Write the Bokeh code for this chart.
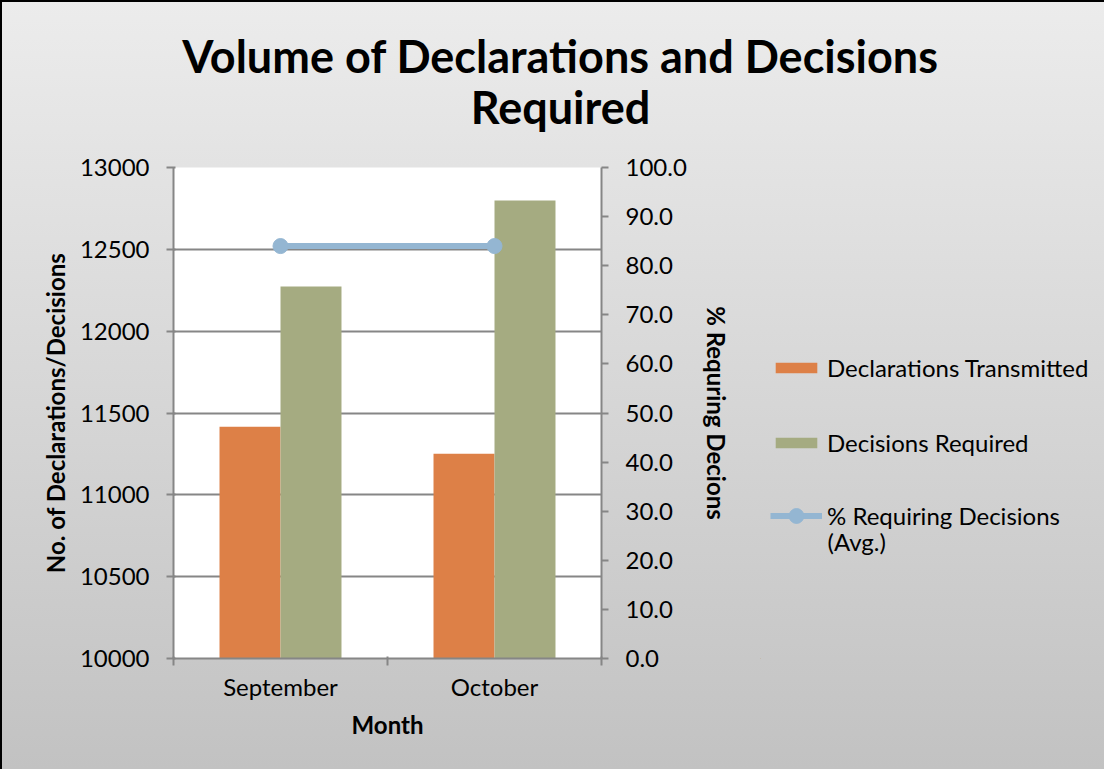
from bokeh.plotting import figure
from bokeh.layouts import column, row
from bokeh.models import (Range1d, LinearAxis, FixedTicker, Legend, LegendItem,
                          Label, NumeralTickFormatter, ColumnDataSource)
from bokeh.transform import dodge
from bokeh.embed import file_html
from bokeh.resources import INLINE

# ---- data ----
months = ["September", "October"]
declarations_transmitted = [11416, 11251]
decisions_required = [12273, 12798]
pct_requiring_decisions = [84.0, 84.0]
left_ticks = [10000, 10500, 11000, 11500, 12000, 12500, 13000]
right_ticks = [0, 10, 20, 30, 40, 50, 60, 70, 80, 90, 100]
title_lines = ["Volume of Declarations and Decisions", "Required"]
series_names = ["Declarations Transmitted", "Decisions Required",
                "% Requiring Decisions", "(Avg.)"]

FONT = "Lato"
ORANGE = "#DD8047"
GREEN = "#A5AB81"
BLUE = "#94B6D2"
GRID = "#868686"

W, H = 1104, 769
TOP_H = 147          # height of the title strip
MAIN_W = 760         # width of the chart part

def grad(y0, y1):
    c0, c1 = 236, 194
    a = round(c0 + (c1 - c0) * y0 / H)
    b = round(c0 + (c1 - c0) * y1 / H)
    return "linear-gradient(to bottom, #{0:02x}{0:02x}{0:02x} 0%, #{1:02x}{1:02x}{1:02x} 100%)".format(a, b)

# ---------------- title strip ----------------
pt = figure(width=W, height=TOP_H, x_range=Range1d(0, W), y_range=Range1d(0, TOP_H),
            output_backend="svg", toolbar_location=None,
            min_border_left=0, min_border_right=0, min_border_top=0, min_border_bottom=0)
pt.axis.visible = False
pt.grid.visible = False
pt.outline_line_color = None
pt.background_fill_alpha = 0
pt.border_fill_alpha = 0
pt.styles = {"background": grad(0, TOP_H), "box-shadow": "inset 2px 2px 0 0 #000"}
for txt, yy in zip(title_lines, [TOP_H - 55, TOP_H - 106]):
    pt.add_layout(Label(x=560, y=yy, text=txt, text_font=FONT, text_font_style="bold",
                        text_font_size="45px", text_align="center",
                        text_baseline="middle", text_color="black"))

# ---------------- main chart ----------------
x_pos = [i + 0.5 for i in range(len(months))]
src = ColumnDataSource(dict(x=x_pos, dec=declarations_transmitted,
                            req=decisions_required, pct=pct_requiring_decisions))

p = figure(width=MAIN_W, height=H - TOP_H, x_range=Range1d(0, len(months)),
           y_range=Range1d(left_ticks[0], left_ticks[-1]),
           output_backend="svg", toolbar_location=None,
           min_border_left=173, min_border_right=MAIN_W - 601,
           min_border_top=167 - TOP_H, min_border_bottom=H - 658)
p.extra_y_ranges = {"pct": Range1d(right_ticks[0], right_ticks[-1])}
p.background_fill_color = "white"
p.border_fill_alpha = 0
p.outline_line_color = None
p.styles = {"background": grad(TOP_H, H), "box-shadow": "inset 2px 0 0 0 #000"}

bw = 0.285
r1 = p.vbar(x=dodge("x", -bw / 2, range=p.x_range), top="dec", bottom=left_ticks[0],
            width=bw, source=src, fill_color=ORANGE, line_color=None)
r2 = p.vbar(x=dodge("x", bw / 2, range=p.x_range), top="req", bottom=left_ticks[0],
            width=bw, source=src, fill_color=GREEN, line_color=None)
r3 = p.line(x="x", y="pct", source=src, y_range_name="pct", line_color=BLUE, line_width=6)
r4 = p.scatter(x="x", y="pct", source=src, y_range_name="pct", size=15,
               fill_color=BLUE, line_color=BLUE)

p.xgrid.visible = False
p.ygrid.ticker = FixedTicker(ticks=left_ticks)
p.ygrid.grid_line_color = GRID
p.ygrid.grid_line_width = 2

def style_text(ax):
    ax.major_label_text_font = FONT
    ax.major_label_text_font_size = "24px"
    ax.major_label_text_color = "black"
    ax.axis_label_text_font = FONT
    ax.axis_label_text_font_style = "bold"
    ax.axis_label_text_font_size = "24px"
    ax.axis_label_text_color = "black"
    ax.axis_line_color = GRID
    ax.axis_line_width = 2

xa = p.xaxis[0]
xa.ticker = FixedTicker(ticks=x_pos, minor_ticks=list(range(len(months) + 1)))
xa.major_label_overrides = {x: m for x, m in zip(x_pos, months)}
xa.major_tick_out = 0
xa.major_tick_in = 0
xa.minor_tick_out = 7
xa.minor_tick_in = 2
xa.minor_tick_line_color = GRID
xa.minor_tick_line_width = 2
xa.major_label_standoff = 6
xa.axis_label = "Month"
xa.axis_label_standoff = 6
style_text(xa)

ya = p.yaxis[0]
ya.ticker = FixedTicker(ticks=left_ticks)
ya.minor_tick_line_color = None
ya.major_tick_out = 7
ya.major_tick_in = 2
ya.major_tick_line_color = GRID
ya.major_tick_line_width = 2
ya.major_label_standoff = 17
ya.axis_label = "No. of Declarations/Decisions"
ya.axis_label_standoff = 7
style_text(ya)

ra = LinearAxis(y_range_name="pct", ticker=FixedTicker(ticks=right_ticks))
ra.formatter = NumeralTickFormatter(format="0.0")
ra.minor_tick_line_color = None
ra.major_tick_out = 7
ra.major_tick_in = 0
ra.major_tick_line_color = GRID
ra.major_tick_line_width = 2
ra.major_label_standoff = 17
ra.axis_label = "% Requring Decions"
ra.axis_label_standoff = 12
style_text(ra)
p.add_layout(ra, "right")

# ---------------- legend panel ----------------
# legend-only renderers: same data, but lying outside this panel's visible ranges
LW = W - MAIN_W
LH = H - TOP_H
pl = figure(width=LW, height=LH, x_range=Range1d(3, 4), y_range=Range1d(13000, 14000),
            output_backend="svg", toolbar_location=None,
            min_border_left=0, min_border_right=0, min_border_top=0, min_border_bottom=0)
pl.axis.visible = False
pl.grid.visible = False
pl.outline_line_color = None
pl.background_fill_alpha = 0
pl.border_fill_alpha = 0
pl.styles = {"background": grad(TOP_H, H)}
l1 = pl.vbar(x="x", top="dec", bottom=left_ticks[0], width=0.1, source=src,
             fill_color=ORANGE, line_color=None)
l2 = pl.vbar(x="x", top="req", bottom=left_ticks[0], width=0.1, source=src,
             fill_color=GREEN, line_color=None)
l3 = pl.line(x="x", y="pct", source=src, line_color=BLUE, line_width=6)
l4 = pl.scatter(x="x", y="pct", source=src, size=15, fill_color=BLUE, line_color=BLUE)

def make_legend(items, loc, glyph_h):
    lg = Legend(items=items, location=loc)
    lg.padding = 0
    lg.margin = 0
    lg.border_line_alpha = 0
    lg.background_fill_alpha = 0
    lg.glyph_width = 52
    lg.glyph_height = glyph_h
    lg.label_standoff = 5
    lg.spacing = 46
    lg.label_text_font = FONT
    lg.label_text_font_size = "24px"
    lg.label_text_color = "black"
    pl.add_layout(lg, "center")
    return lg

make_legend([LegendItem(label=series_names[0], renderers=[l1]),
             LegendItem(label=series_names[1], renderers=[l2])], (10, 201), 13)
make_legend([LegendItem(label=series_names[2], renderers=[l3, l4])], (10, 124), 37)
pl.add_layout(Label(x=67, y=117, x_units="screen", y_units="screen", text=series_names[3],
                    text_font=FONT, text_font_size="24px", text_color="black",
                    text_align="left", text_baseline="middle"))

layout = column(pt, row(p, pl, spacing=0), spacing=0)
open("out.html", "w").write(file_html(layout, INLINE))
